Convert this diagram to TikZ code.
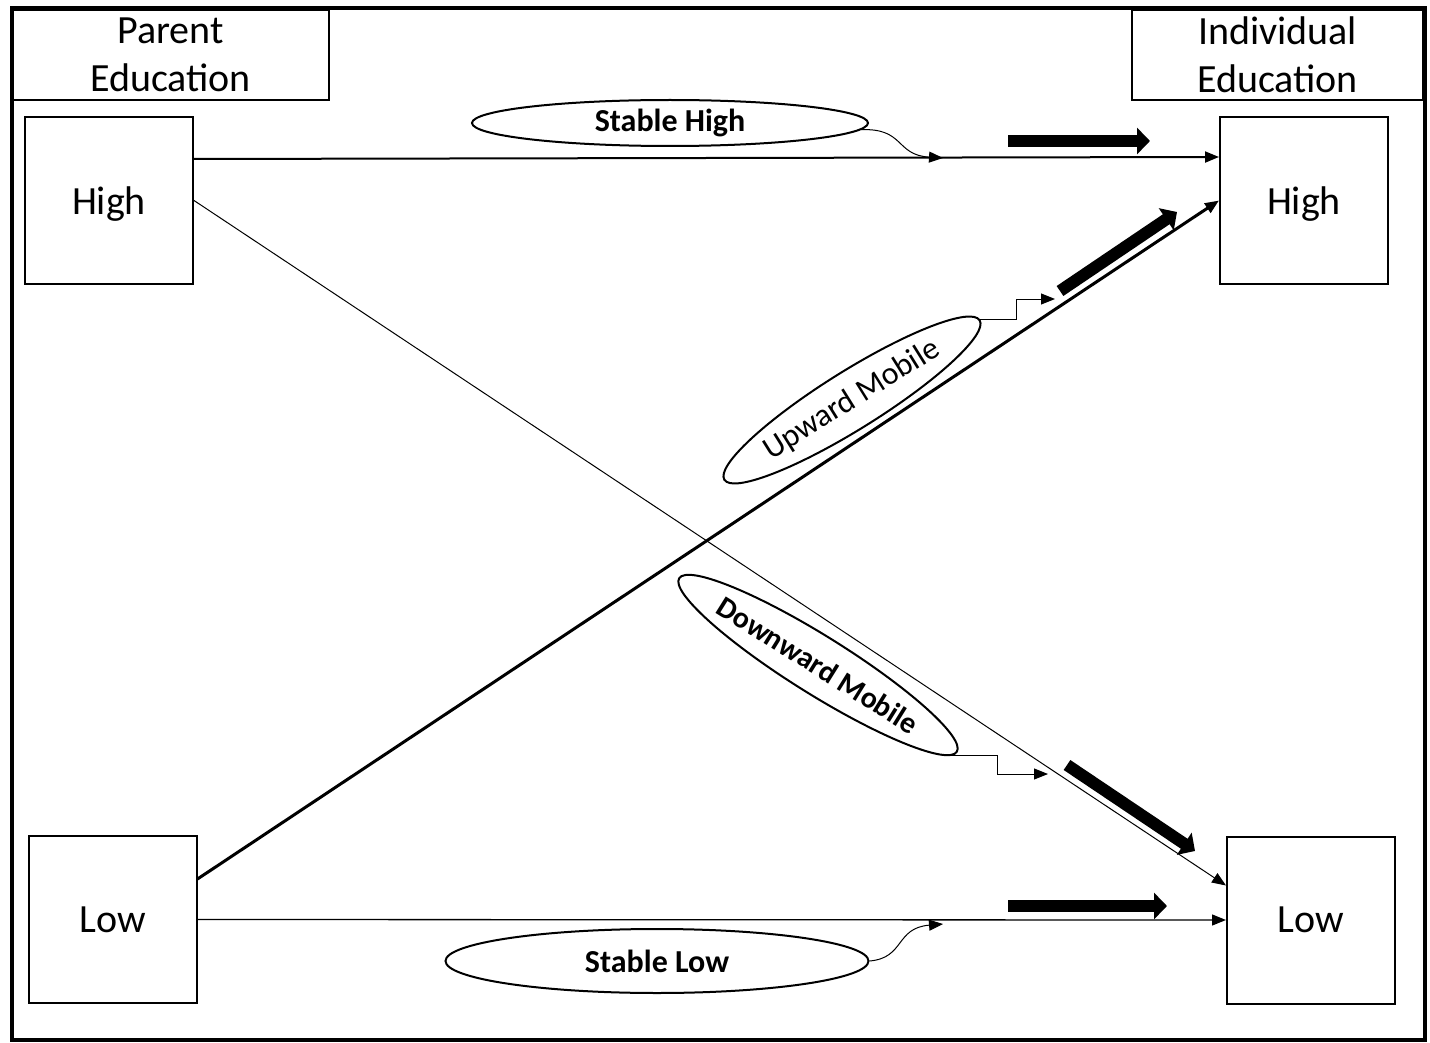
\documentclass[tikz,border=0pt]{standalone}
\usepackage{fontspec}
\setmainfont{Carlito}
\usetikzlibrary{arrows.meta,shapes.geometric,calc}
\begin{document}
\begin{tikzpicture}[x=1pt,y=-1pt,
  box/.style={draw,line width=2pt,minimum width=168pt,minimum height=167pt,inner sep=0pt,text depth=0pt,font=\fontsize{40}{48}\selectfont},
  hdr/.style={draw,line width=2pt,inner sep=0pt,align=center,font=\fontsize{40}{48}\selectfont},
  lbl/.style={draw,ellipse,line width=2pt,inner sep=0pt},
  boldlbl/.style={font=\bfseries\fontsize{32}{38}\selectfont},
  dmlbl/.style={font=\bfseries\fontsize{30}{36}\selectfont},
  reglbl/.style={font=\fontsize{32}{38}\selectfont},
  tip/.style={-{Triangle[length=14pt,width=11pt]}},
  fat/.style={line width=12pt,-{Triangle[length=13pt,width=26pt]}},
]
\fill[white] (0,0) rectangle (1430,1043);
\useasboundingbox (0,0) rectangle (1430,1043);
\draw[line width=4.5pt] (12,8) rectangle (1425,1040);

\node[hdr,minimum width=316pt,minimum height=90pt] (pe) at (170.5,55) {Parent\\Education};
\node[hdr,minimum width=291pt,minimum height=90pt] (ie) at (1277.5,55) {Individual\\Education};

\node[box] (hl) at (109,200.5) {High};
\node[box] (hr) at (1304,200.5) {High};
\node[box] (ll) at (112.5,919.5) {Low};
\node[box] (lr) at (1311,920) {Low};

\draw[line width=2pt,tip] ([yshift=-43pt]hl.north east) -- ([yshift=-41pt]hr.north west);
\draw[line width=1pt,tip] (hl.east) -- ([yshift=-50pt]lr.north west);
\draw[line width=3pt,tip] ([yshift=-44pt]ll.north east) -- (hr.west);
\draw[line width=1.3pt,tip] (ll.east) -- (lr.west);

\node[lbl,boldlbl,minimum width=396pt,minimum height=46pt] (sh) at (670,123) {Stable High};
\node[lbl,boldlbl,minimum width=423pt,minimum height=64pt] (sl) at (657,961) {Stable Low};
\node[lbl,reglbl,rotate=32,minimum width=301pt,minimum height=58pt] (um) at (852,400) {Upward Mobile};
\node[lbl,dmlbl,rotate=-32,minimum width=316pt,minimum height=58pt] (dm) at (818,665) {Downward Mobile};

\coordinate (shT) at (943,158);
\coordinate (slT) at (943,924);
\coordinate (umT) at (1055,299);
\coordinate (dmT) at (1048,774);

\draw[line width=1pt,tip] (sh.-2) .. controls (905,128) and (895,155) .. (shT);
\draw[line width=1pt,tip] (sl.east) .. controls (905,958) and (895,928) .. (slT);
\draw[line width=1pt,tip] (um.east) -- ++(36,0) |- (umT);
\draw[line width=1pt,tip] (dm.-4) -- ++(55,0) |- (dmT);

\draw[fat] (1008,141) -- (1150,141);
\draw[fat] (1060,291) -- (1177,212);
\draw[fat] (1067,765) -- (1195,851);
\draw[fat] (1008,906) -- (1167,906);
\end{tikzpicture}
\end{document}
